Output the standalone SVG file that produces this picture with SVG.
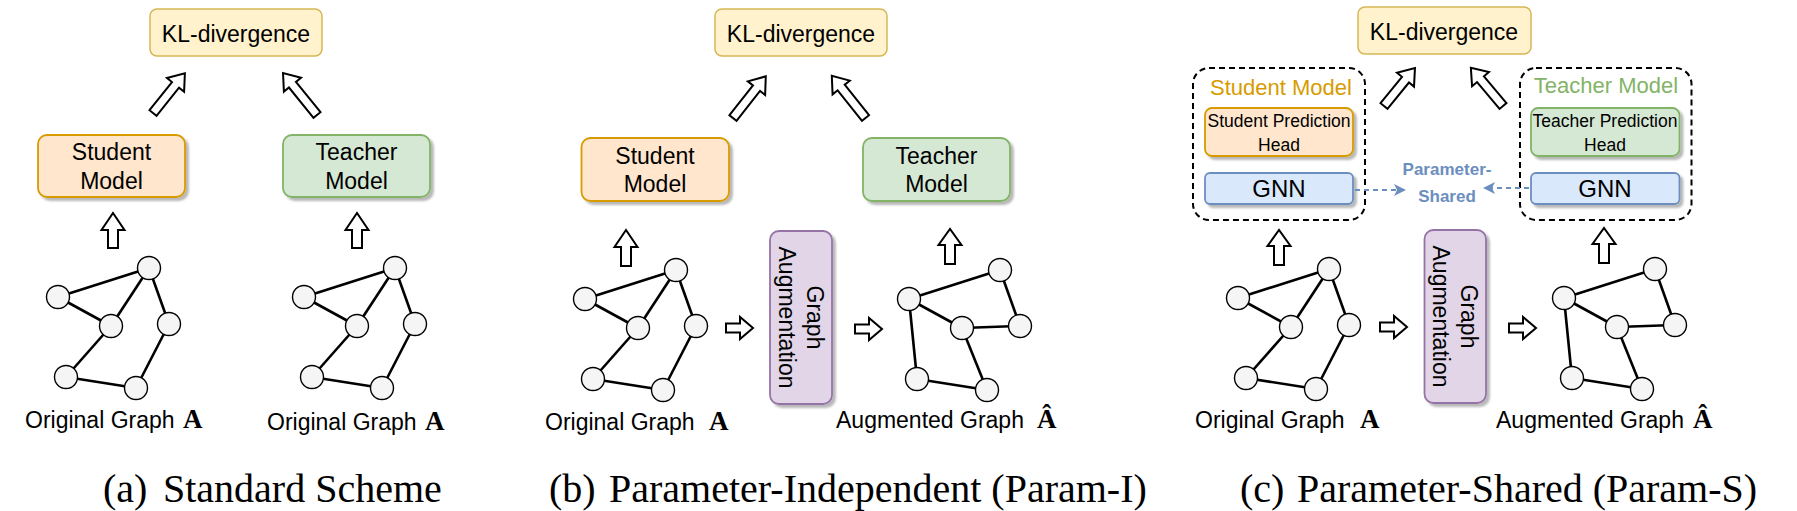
<svg xmlns="http://www.w3.org/2000/svg" width="1797" height="511" viewBox="0 0 1797 511">
<style>
.kl{fill:#fff2cc;stroke:#d6b656;stroke-width:1.5}
.stu{fill:#ffe6cc;stroke:#d79b00;stroke-width:1.8}
.tea{fill:#d5e8d4;stroke:#82b366;stroke-width:1.8}
.gnn{fill:#dae8fc;stroke:#6c8ebf;stroke-width:1.8}
.aug{fill:#e1d5e7;stroke:#9673a6;stroke-width:1.8}
.grp{fill:none;stroke:#000;stroke-width:2;stroke-dasharray:6 4}
.sh{filter:url(#sh)}
.t{font-family:"Liberation Sans",Arial,sans-serif;fill:#000;text-anchor:middle}
.lbl{font-family:"Liberation Sans",Arial,sans-serif;font-size:23px;fill:#000}
.mA{font-family:"Liberation Serif","Times New Roman",serif;font-weight:bold;font-size:27px;fill:#000}
.cap{font-family:"Liberation Serif","Times New Roman",serif;font-size:40px;fill:#000}
.blk{fill:#fff;stroke:#000;stroke-width:2;stroke-linejoin:miter}
.e{stroke:#000;stroke-width:2.6;fill:none}
.n{fill:#f5f5f5;stroke:#000;stroke-width:1.4}
.ps{font-family:"Liberation Sans",Arial,sans-serif;font-weight:bold;font-size:17px;fill:#6c8ebf;text-anchor:middle}
.da{stroke:#6c8ebf;stroke-width:2;stroke-dasharray:5 4;fill:none}
</style>
<defs>
<filter id="sh" x="-10%" y="-10%" width="130%" height="140%">
<feDropShadow dx="3" dy="3" stdDeviation="1.2" flood-color="#000" flood-opacity="0.28"/>
</filter>
<marker id="bh" viewBox="0 0 12 12" refX="10" refY="6" markerWidth="12" markerHeight="12" markerUnits="userSpaceOnUse" orient="auto">
<path d="M0,0 L12,6 L0,12 L3,6 Z" fill="#6c8ebf"/>
</marker>
<g id="g1">
<line class="e" x1="149" y1="268" x2="58" y2="297"/>
<line class="e" x1="58" y1="297" x2="111" y2="326"/>
<line class="e" x1="111" y1="326" x2="149" y2="268"/>
<line class="e" x1="149" y1="268" x2="169" y2="324"/>
<line class="e" x1="111" y1="326" x2="66" y2="377"/>
<line class="e" x1="66" y1="377" x2="136" y2="388"/>
<line class="e" x1="136" y1="388" x2="169" y2="324"/>
<circle class="n" cx="149" cy="268" r="11.5"/>
<circle class="n" cx="58" cy="297" r="11.5"/>
<circle class="n" cx="111" cy="326" r="11.5"/>
<circle class="n" cx="169" cy="324" r="11.5"/>
<circle class="n" cx="66" cy="377" r="11.5"/>
<circle class="n" cx="136" cy="388" r="11.5"/>
</g>
<g id="g2">
<line class="e" x1="58" y1="297" x2="149" y2="268"/>
<line class="e" x1="149" y1="268" x2="169" y2="324"/>
<line class="e" x1="58" y1="297" x2="111" y2="326"/>
<line class="e" x1="111" y1="326" x2="169" y2="324"/>
<line class="e" x1="58" y1="297" x2="66" y2="377"/>
<line class="e" x1="111" y1="326" x2="136" y2="388"/>
<line class="e" x1="66" y1="377" x2="136" y2="388"/>
<circle class="n" cx="149" cy="268" r="11.5"/>
<circle class="n" cx="58" cy="297" r="11.5"/>
<circle class="n" cx="111" cy="326" r="11.5"/>
<circle class="n" cx="169" cy="324" r="11.5"/>
<circle class="n" cx="66" cy="377" r="11.5"/>
<circle class="n" cx="136" cy="388" r="11.5"/>
</g>
</defs>

<!-- Panel (a) -->
<g id="a-kl"><rect class="kl" x="150" y="9" width="172" height="47" rx="7"/><text class="t" x="236" y="42" font-size="23">KL-divergence</text></g>
<g id="a-student"><rect class="stu sh" x="38" y="135" width="147" height="62" rx="9"/><text class="t" x="111.5" y="160" font-size="23">Student</text><text class="t" x="111.5" y="189" font-size="23">Model</text></g>
<g id="a-teacher"><rect class="tea sh" x="283" y="135" width="147" height="62" rx="9"/><text class="t" x="356.5" y="160" font-size="23">Teacher</text><text class="t" x="356.5" y="189" font-size="23">Model</text></g>
<g id="a-graph1"><use href="#g1"/><text class="lbl" x="25" y="428">Original Graph</text><text class="mA" x="183" y="428">A</text></g>
<g id="a-graph2"><use href="#g1" transform="translate(246,0)"/><text class="lbl" x="267" y="430">Original Graph</text><text class="mA" x="425" y="430">A</text></g>

<!-- Panel (b) -->
<g id="b-kl"><rect class="kl" x="715" y="9" width="172" height="47" rx="7"/><text class="t" x="801" y="42" font-size="23">KL-divergence</text></g>
<g id="b-student"><rect class="stu sh" x="581.5" y="138" width="147.5" height="63" rx="9"/><text class="t" x="655" y="164" font-size="23">Student</text><text class="t" x="655" y="192" font-size="23">Model</text></g>
<g id="b-teacher"><rect class="tea sh" x="863" y="138" width="147" height="63" rx="9"/><text class="t" x="936.5" y="164" font-size="23">Teacher</text><text class="t" x="936.5" y="192" font-size="23">Model</text></g>
<g id="b-aug"><rect class="aug sh" x="770" y="231" width="62" height="173" rx="9"/><text class="t" font-size="23" transform="translate(801,317.5) rotate(90)"><tspan x="0" y="-6">Graph</tspan><tspan x="0" y="22">Augmentation</tspan></text></g>
<g id="b-graph1"><use href="#g1" transform="translate(527,2)"/><text class="lbl" x="545" y="430">Original Graph</text><text class="mA" x="709" y="430">A</text></g>
<g id="b-graph2"><use href="#g2" transform="translate(851,2)"/><text class="lbl" x="836" y="428">Augmented Graph</text><text class="mA" x="1037" y="428">Â</text></g>

<!-- Panel (c) -->
<g id="c-kl"><rect class="kl" x="1358" y="7" width="173" height="47" rx="7"/><text class="t" x="1444" y="40" font-size="23">KL-divergence</text></g>
<g id="c-student">
<rect class="grp" x="1193" y="68" width="172" height="152" rx="16"/>
<text class="t" x="1281" y="95" font-size="22" fill="#d79b00" style="fill:#d79b00">Student Model</text>
<rect class="stu sh" x="1205" y="108" width="148" height="48" rx="7"/>
<text class="t" x="1279" y="127" font-size="17.5">Student Prediction</text><text class="t" x="1279" y="151" font-size="17.5">Head</text>
<rect class="gnn sh" x="1205" y="173" width="148" height="31" rx="5"/>
<text class="t" x="1279" y="197" font-size="24">GNN</text>
</g>
<g id="c-teacher">
<rect class="grp" x="1520" y="68" width="171.5" height="152" rx="16"/>
<text class="t" x="1606" y="93" font-size="22" style="fill:#82b366">Teacher Model</text>
<rect class="tea sh" x="1531" y="108" width="148.5" height="48" rx="7"/>
<text class="t" x="1605" y="127" font-size="17.5">Teacher Prediction</text><text class="t" x="1605" y="151" font-size="17.5">Head</text>
<rect class="gnn sh" x="1531" y="173" width="148.5" height="31" rx="5"/>
<text class="t" x="1605" y="197" font-size="24">GNN</text>
</g>
<g id="c-shared"><text class="ps" x="1447" y="175">Parameter-</text><text class="ps" x="1447" y="202">Shared</text></g>
<g id="c-aug"><rect class="aug sh" x="1424.5" y="230" width="61.5" height="173" rx="9"/><text class="t" font-size="23" transform="translate(1455.25,316.5) rotate(90)"><tspan x="0" y="-6">Graph</tspan><tspan x="0" y="22">Augmentation</tspan></text></g>
<g id="c-graph1"><use href="#g1" transform="translate(1180,1)"/><text class="lbl" x="1195" y="428">Original Graph</text><text class="mA" x="1360" y="428">A</text></g>
<g id="c-graph2"><use href="#g2" transform="translate(1506,1)"/><text class="lbl" x="1496" y="428">Augmented Graph</text><text class="mA" x="1693" y="428">Â</text></g>

<!-- Connectors -->
<g id="connectors">
<!-- diagonal block arrows -->
<path class="blk" d="M0,-4.5 L36,-4.5 L36,-11 L51,0 L36,11 L36,4.5 L0,4.5 Z" transform="translate(153,113) rotate(-51.3)"/>
<path class="blk" d="M0,-4.5 L39,-4.5 L39,-11 L54,0 L39,11 L39,4.5 L0,4.5 Z" transform="translate(317,115) rotate(-129)"/>
<path class="blk" d="M0,-4.5 L38,-4.5 L38,-11 L53,0 L38,11 L38,4.5 L0,4.5 Z" transform="translate(733,118) rotate(-51.8)"/>
<path class="blk" d="M0,-4.5 L39,-4.5 L39,-11 L54,0 L39,11 L39,4.5 L0,4.5 Z" transform="translate(865.5,118) rotate(-128.6)"/>
<path class="blk" d="M0,-4.5 L34,-4.5 L34,-11 L49,0 L34,11 L34,4.5 L0,4.5 Z" transform="translate(1384,106) rotate(-50.8)"/>
<path class="blk" d="M0,-4.5 L35,-4.5 L35,-11 L50,0 L35,11 L35,4.5 L0,4.5 Z" transform="translate(1503,106) rotate(-130)"/>
<!-- up arrows -->
<path class="blk" d="M0,-5 L18,-5 L18,-11.5 L35,0 L18,11.5 L18,5 L0,5 Z" transform="translate(113,248) rotate(-90)"/>
<path class="blk" d="M0,-5 L18,-5 L18,-11.5 L35,0 L18,11.5 L18,5 L0,5 Z" transform="translate(357,248) rotate(-90)"/>
<path class="blk" d="M0,-5 L19,-5 L19,-11.5 L36,0 L19,11.5 L19,5 L0,5 Z" transform="translate(626,266) rotate(-90)"/>
<path class="blk" d="M0,-5 L19,-5 L19,-11.5 L35,0 L19,11.5 L19,5 L0,5 Z" transform="translate(950,264) rotate(-90)"/>
<path class="blk" d="M0,-5 L19,-5 L19,-11.5 L35,0 L19,11.5 L19,5 L0,5 Z" transform="translate(1279,265) rotate(-90)"/>
<path class="blk" d="M0,-5 L19,-5 L19,-11.5 L35,0 L19,11.5 L19,5 L0,5 Z" transform="translate(1604,263) rotate(-90)"/>
<!-- small right arrows -->
<path class="blk" d="M0,-4.5 L14,-4.5 L14,-11 L27,0 L14,11 L14,4.5 L0,4.5 Z" transform="translate(726,328)"/>
<path class="blk" d="M0,-4.5 L14,-4.5 L14,-11 L27,0 L14,11 L14,4.5 L0,4.5 Z" transform="translate(855,329)"/>
<path class="blk" d="M0,-4.5 L14,-4.5 L14,-11 L27,0 L14,11 L14,4.5 L0,4.5 Z" transform="translate(1380,327)"/>
<path class="blk" d="M0,-4.5 L14,-4.5 L14,-11 L27,0 L14,11 L14,4.5 L0,4.5 Z" transform="translate(1509,328)"/>
<!-- parameter-shared dashed arrows -->
<line class="da" x1="1355" y1="190" x2="1404" y2="190" marker-end="url(#bh)"/>
<line class="da" x1="1529" y1="188" x2="1485" y2="188" marker-end="url(#bh)"/>
</g>

<!-- Captions -->
<g id="captions">
<text class="cap" x="103" y="502">(a)</text><text class="cap" x="163" y="502">Standard Scheme</text>
<text class="cap" x="549" y="502">(b)</text><text class="cap" x="609" y="502">Parameter-Independent (Param-I)</text>
<text class="cap" x="1240" y="502">(c)</text><text class="cap" x="1297" y="502">Parameter-Shared (Param-S)</text>
</g>
</svg>
